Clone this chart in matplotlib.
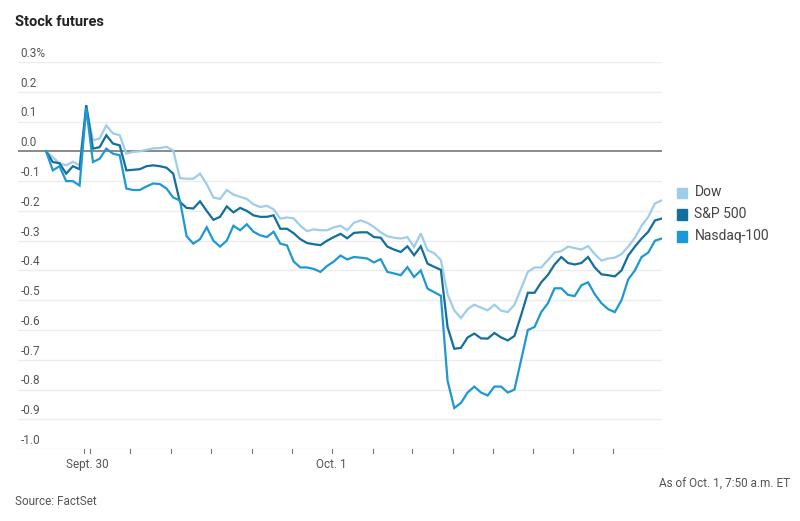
import matplotlib
matplotlib.use("Agg")
import matplotlib.pyplot as plt
from matplotlib.patches import Rectangle

plt.rcParams['font.family'] = ['Roboto', 'DejaVu Sans']

# percent change, one value per interval
dow = [0, -0.02, -0.04, -0.047, -0.035, -0.047, 0.15, 0.037, 0.043, 0.087,
       0.06, 0.054, -0.008, -0.002, 0.0, 0.005, 0.01, 0.011, 0.015, 0.003,
       -0.09, -0.092, -0.092, -0.075, -0.11, -0.155, -0.16, -0.13, -0.145, -0.153,
       -0.16, -0.178, -0.187, -0.183, -0.195, -0.226, -0.222, -0.225, -0.25, -0.268,
       -0.262, -0.265, -0.265, -0.255, -0.25, -0.265, -0.24, -0.232, -0.24, -0.254,
       -0.272, -0.285, -0.29, -0.293, -0.288, -0.321, -0.276, -0.332, -0.342, -0.365,
       -0.48, -0.534, -0.56, -0.53, -0.515, -0.525, -0.534, -0.515, -0.535, -0.54,
       -0.515, -0.46, -0.405, -0.39, -0.39, -0.365, -0.34, -0.335, -0.32, -0.325,
       -0.33, -0.318, -0.345, -0.367, -0.36, -0.357, -0.345, -0.32, -0.29, -0.25,
       -0.22, -0.175, -0.165]
sp500 = [0, -0.036, -0.04, -0.075, -0.05, -0.06, 0.155, 0.009, 0.014, 0.054,
         0.026, 0.02, -0.064, -0.062, -0.06, -0.05, -0.047, -0.05, -0.055, -0.075,
         -0.17, -0.19, -0.192, -0.168, -0.2, -0.23, -0.22, -0.185, -0.205, -0.19,
         -0.2, -0.215, -0.22, -0.22, -0.215, -0.26, -0.26, -0.275, -0.295, -0.308,
         -0.312, -0.315, -0.3, -0.288, -0.277, -0.292, -0.274, -0.272, -0.272, -0.288,
         -0.29, -0.32, -0.33, -0.338, -0.319, -0.349, -0.319, -0.377, -0.388, -0.398,
         -0.59, -0.663, -0.66, -0.625, -0.612, -0.628, -0.629, -0.61, -0.625, -0.635,
         -0.62, -0.55, -0.475, -0.475, -0.44, -0.415, -0.38, -0.355, -0.375, -0.38,
         -0.375, -0.355, -0.39, -0.413, -0.416, -0.42, -0.4, -0.35, -0.32, -0.293,
         -0.27, -0.232, -0.226]
nasdaq = [0, -0.064, -0.05, -0.1, -0.1, -0.115, 0.145, -0.036, -0.025, 0.009,
          -0.008, -0.013, -0.125, -0.13, -0.13, -0.118, -0.108, -0.11, -0.125, -0.155,
          -0.165, -0.285, -0.31, -0.295, -0.255, -0.3, -0.32, -0.3, -0.25, -0.265,
          -0.245, -0.27, -0.282, -0.288, -0.27, -0.31, -0.316, -0.37, -0.39, -0.39,
          -0.395, -0.405, -0.385, -0.37, -0.35, -0.363, -0.355, -0.357, -0.36, -0.373,
          -0.362, -0.405, -0.41, -0.416, -0.389, -0.422, -0.4, -0.461, -0.473, -0.485,
          -0.77, -0.862, -0.845, -0.81, -0.79, -0.81, -0.82, -0.79, -0.79, -0.81,
          -0.8, -0.7, -0.6, -0.59, -0.54, -0.51, -0.46, -0.46, -0.482, -0.486,
          -0.45, -0.44, -0.48, -0.51, -0.53, -0.54, -0.5, -0.43, -0.4, -0.355,
          -0.34, -0.3, -0.293]

names = ['Dow', 'S&P 500', 'Nasdaq-100']
colors = ['#9fcde9', '#136f9c', '#1e98d4']

yticks = [0.3, 0.2, 0.1, 0.0, -0.1, -0.2, -0.3, -0.4, -0.5, -0.6, -0.7, -0.8, -0.9, -1.0]
ylabels = ['0.3%', '0.2', '0.1', '0.0', '-0.1', '-0.2', '-0.3', '-0.4', '-0.5',
           '-0.6', '-0.7', '-0.8', '-0.9', '-1.0']
xtick_pos = [5.6, 6.6, 12.6, 18.7, 24.7, 30.8, 36.7, 42.7, 48.8, 54.7, 60.8, 66.8, 72.8, 78.8, 84.7]
xlabel_pos = [6.1, 42.7]
xlabels = ['Sept. 30', 'Oct. 1']

fig = plt.figure(figsize=(8, 5.21), dpi=100)
ax = fig.add_axes([0.0225, 0.138, 0.805, 0.743])
x = list(range(len(dow)))

for yv, lab in zip(yticks, ylabels):
    if yv == 0:
        ax.axhline(yv, color='#8a8a8a', lw=1.4, zorder=1)
    else:
        ax.axhline(yv, color='#ececec', lw=1.0, zorder=0)
    ax.text(-3.8, yv + 0.007, lab, fontsize=8.5, color='#555555',
            ha='left', va='bottom')

for series, c in zip([dow, sp500, nasdaq], colors):
    ax.plot(x, series, color=c, lw=1.6, zorder=3, solid_joinstyle='miter')

ax.set_xlim(-4.2, 92.05)
ax.set_ylim(-1.0, 0.3)
ax.axis('off')

for t in xtick_pos:
    ax.plot([t, t], [-1.0, -1.012], color='#777777', lw=0.8, clip_on=False)
for p, l in zip(xlabel_pos, xlabels):
    ax.text(p, -1.03, l, fontsize=8.5, color='#555555', ha='center', va='top')

fig.text(0.019, 0.958, 'Stock futures', fontsize=10.5, fontweight='bold', color='#222222',
         ha='left', va='center')
fig.text(0.019, 0.038, 'Source: FactSet', fontsize=8.5, color='#555555', ha='left', va='center')
fig.text(0.988, 0.07, 'As of Oct. 1, 7:50 a.m. ET', fontsize=8.5, color='#555555',
         ha='right', va='center')

leg_y = [0.631, 0.589, 0.547]
for n, c, ly in zip(names, colors, leg_y):
    fig.patches.append(Rectangle((0.846, ly - 0.011), 0.013, 0.02, transform=fig.transFigure,
                                 color=c, figure=fig))
    fig.text(0.868, ly, n, fontsize=10, color='#444444', ha='left', va='center')

fig.savefig('out.png', dpi=100)
